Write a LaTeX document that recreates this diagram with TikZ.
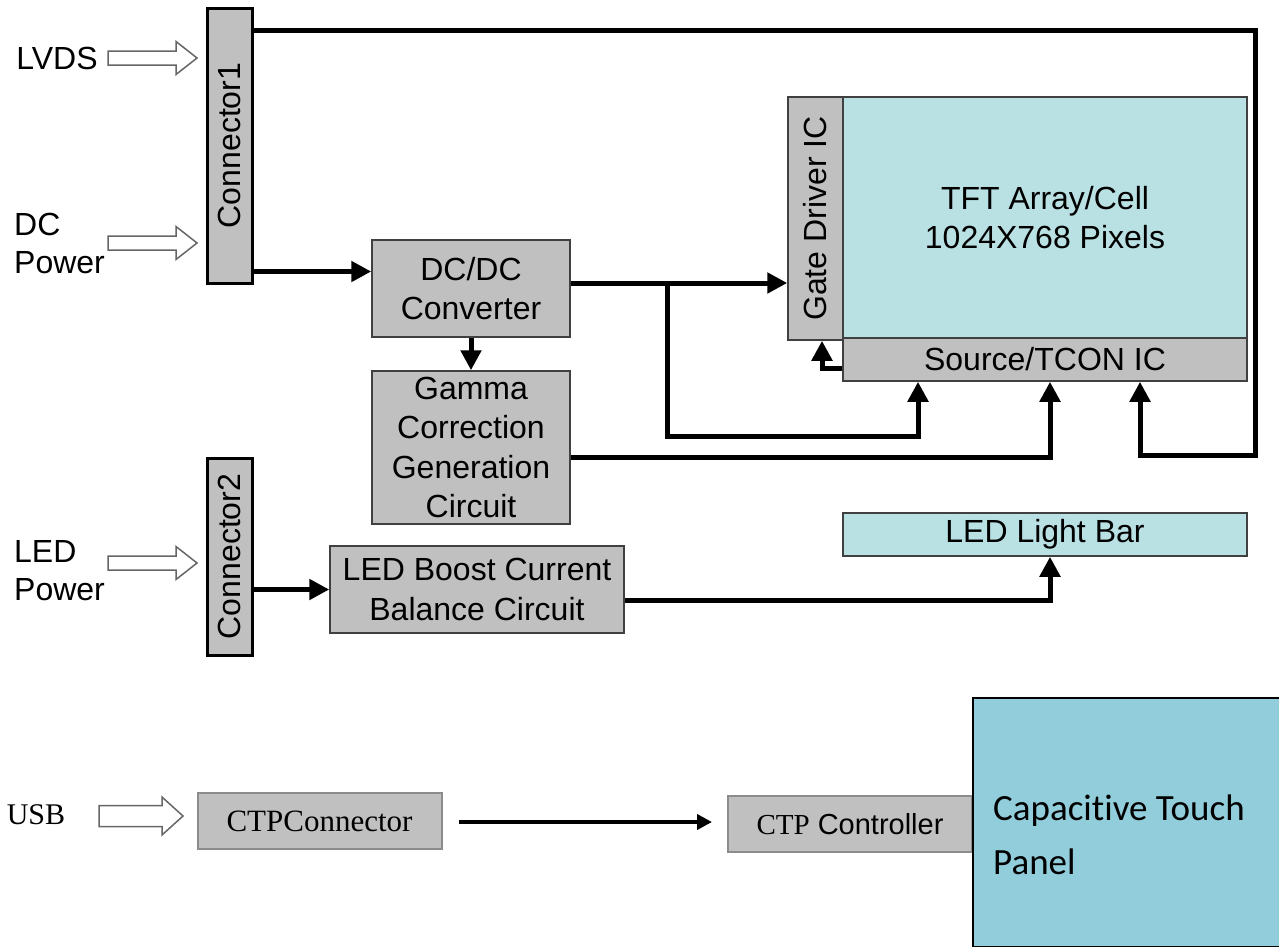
\documentclass[tikz,border=0pt]{standalone}
\usepackage{fontspec}
\setmainfont{Liberation Sans}
\newfontfamily\timesfont{Liberation Serif}
\newfontfamily\calfont[Ligatures=CommonOff]{Carlito}
\usetikzlibrary{arrows.meta}
\definecolor{boxgray}{HTML}{C0C0C0}
\definecolor{cellcyan}{HTML}{B9E0E3}
\definecolor{panelblue}{HTML}{92CDDC}
\tikzset{
  box/.style={draw=black!75, line width=1.5pt, fill=boxgray, inner sep=0pt, align=center, font=\fontsize{32}{39.5}\selectfont},
  conbox/.style={box, draw=black, line width=3pt},
  ctpbox/.style={box, draw=black!45, line width=2pt},
  vtext/.style={rotate=90, inner sep=0pt, font=\fontsize{32}{39.5}\selectfont},
  lbl/.style={inner sep=0pt, align=left, font=\fontsize{32}{38}\selectfont},
  wire/.style={line width=5pt, -{Triangle[length=20pt,width=20pt]}},
  thinwire/.style={line width=4pt, -{Triangle[length=15pt,width=15pt]}},
  fat/.style={draw=black!60, line width=1.5pt, fill=white}
}
\newcommand{\fatarrow}[5]{\draw[fat] (#1) ++(0,-#3) -- ++({#2-#5},0) -- ++(0,{#3-#4}) -- ++(#5,#4) -- ++(-#5,#4) -- ++(0,{#3-#4}) -- ++({#5-#2},0) -- cycle;}
\begin{document}
\begin{tikzpicture}[x=1pt, y=-1pt]
\useasboundingbox (0,0) rectangle (1279,946);

\node [conbox, minimum width=45pt, minimum height=275pt] (con1) at (229.5,145.5) {};
\node [vtext] at (con1) {Connector1};
\node [conbox, minimum width=45pt, minimum height=197pt] (con2) at (229.5,556.5) {};
\node [vtext] at (con2) {Connector2};

\node [box, minimum width=198pt, minimum height=97pt] (dcdc) at (471,288.5) {DC/DC\\Converter};
\node [box, minimum width=198pt, minimum height=153pt] (gamma) at (471,447.5) {Gamma\\Correction\\Generation\\Circuit};
\node [box, minimum width=294pt, minimum height=87pt] (ledb) at (477,589.5) {LED Boost Current\\Balance Circuit};

\node [box, minimum width=55pt, minimum height=243pt] (gate) at (815.5,218.5) {};
\node [vtext] at (gate) {Gate Driver IC};
\node [box, fill=cellcyan, minimum width=404pt, minimum height=241pt] (tft) at (1045,217.5) {TFT Array/Cell\\1024X768 Pixels};
\node [box, minimum width=404pt, minimum height=43pt] (src) at (1045,359.5) {Source/TCON IC};
\node [box, fill=cellcyan, minimum width=404pt, minimum height=43pt] (bar) at (1045,534.5) {LED Light Bar};

\node [ctpbox, minimum width=244pt, minimum height=56pt, font=\timesfont\fontsize{31}{36}\selectfont] (ctpc) at (319.5,821) {CTPConnector};
\node [ctpbox, minimum width=244pt, minimum height=56pt, font=\fontsize{29}{34}\selectfont] (ctpctl) at (850,824) {{\timesfont CTP} Controller};
\node [draw, line width=1.5pt, fill=panelblue, minimum width=307pt, minimum height=249pt, anchor=north west] (panel) at (972,697) {};
\node [lbl, anchor=west, font=\calfont\fontsize{37}{54}\selectfont] (paneltext) at (993,835) {Capacitive Touch\\Panel};

\node [lbl] (lvds) at (57,58) {LVDS};
\node [lbl, anchor=west] (dcp) at (14,243) {DC\\Power};
\node [lbl, anchor=west] (ledp) at (14,571) {LED\\Power};
\node [lbl, font=\timesfont\fontsize{30}{36}\selectfont] (usb) at (36,815) {USB};

\coordinate (lvdsin) at (108,58);
\coordinate (dcin) at (108,243);
\coordinate (ledin) at (108,563);
\coordinate (usbin) at (99,816);
\fatarrow{lvdsin}{89}{7}{16.5}{21}
\fatarrow{dcin}{89}{7}{16.5}{21}
\fatarrow{ledin}{89}{7}{16.5}{21}
\fatarrow{usbin}{84}{10.5}{19}{21}

\coordinate (c1) at (1255,30);
\draw [wire] (c1 -| con1.east) -- (c1) |- (1140,455) -- ([xshift=95pt]src.south);
\coordinate (p1) at ([yshift=13pt]con1.south east);
\draw [wire] (p1) -- (p1 -| dcdc.west);
\coordinate (p2) at ([yshift=5.5pt]dcdc.east);
\draw [wire] (p2) -- (p2 -| gate.west);
\coordinate (j1) at (667,283);
\draw [wire] (j1) |- ++(251,153) -- ([xshift=-127pt]src.south);
\draw [wire] (dcdc.south) -- (gamma.north);
\draw [wire] ([yshift=-9.5pt]gamma.east) -| ([xshift=5pt]src.south);
\draw [wire] ([yshift=-8.5pt]src.west) -| ([xshift=6.5pt]gate.south);
\draw [wire] (con2.east |- ledb.west) -- (ledb.west);
\draw [wire] ([yshift=-10.5pt]ledb.east) -| ([xshift=5pt]bar.south);
\coordinate (p3) at ([xshift=16pt,yshift=-1pt]ctpc.east);
\draw [thinwire] (p3) -- ([xshift=-15pt]p3 -| ctpctl.west);
\end{tikzpicture}
\end{document}
